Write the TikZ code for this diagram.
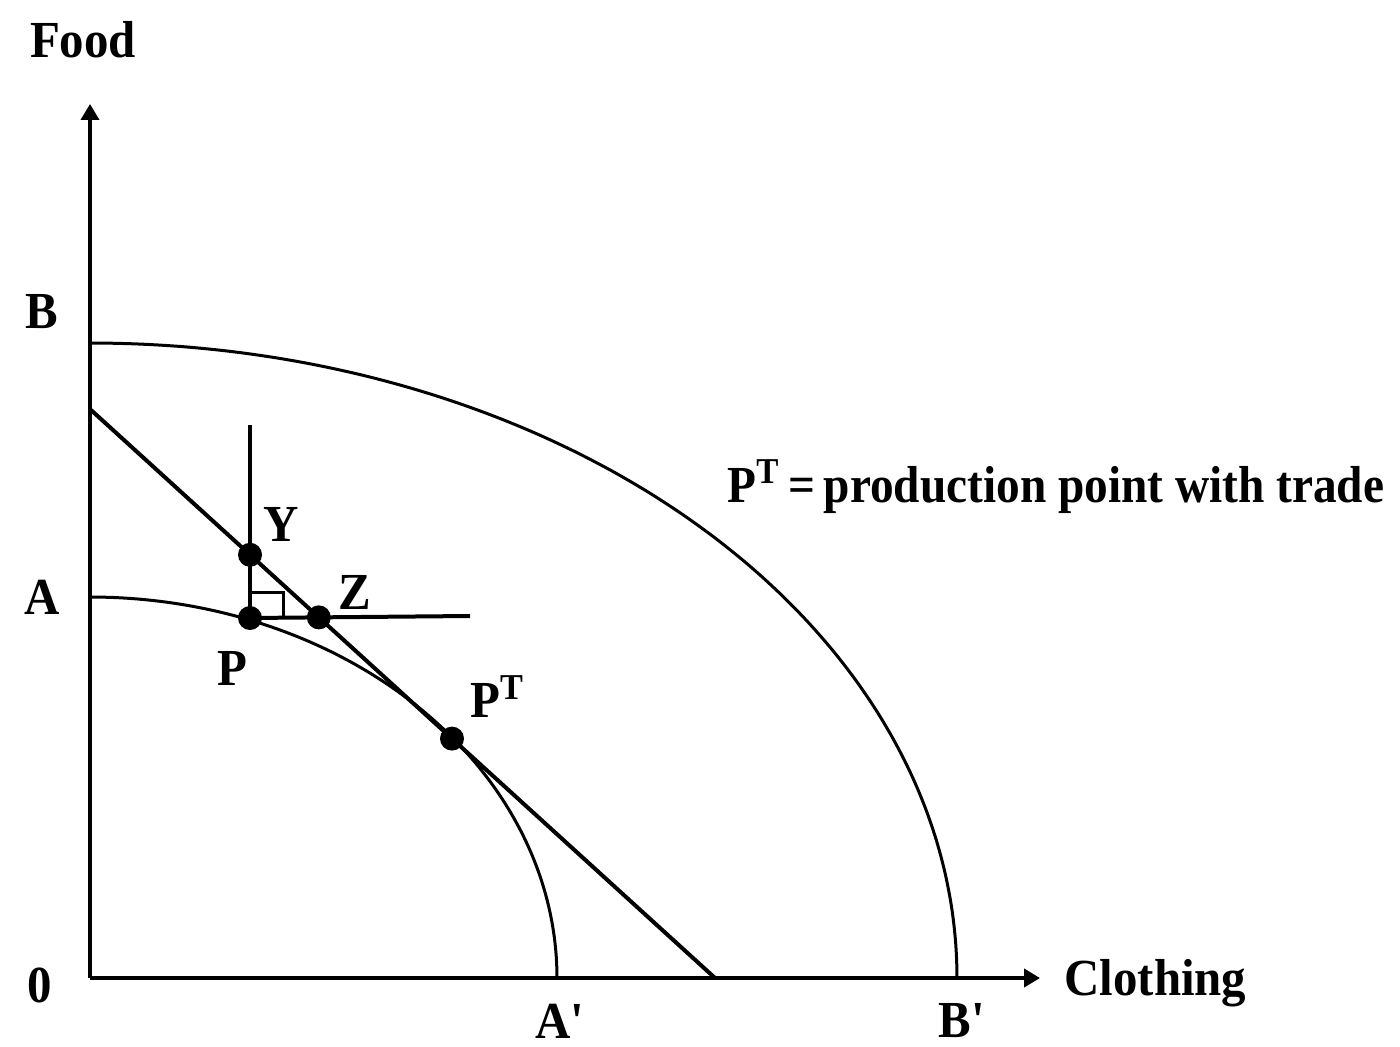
\documentclass[tikz,border=0pt]{standalone}
\usepackage{fontspec}
\setmainfont{Liberation Serif}[FakeStretch=0.94]
\newfontfamily\legfont{Liberation Serif}[FakeStretch=0.91]
\usetikzlibrary{arrows.meta,calc}
\begin{document}
\begin{tikzpicture}[x=0.5pt,y=-0.5pt,
  axis/.style={line width=2.4pt,-{Triangle[length=8pt,width=9pt]}},
  curve/.style={line width=1.5pt},
  tline/.style={line width=2pt},
  guide/.style={line width=2pt},
  dot/.style={fill=black},
  lbl/.style={font=\bfseries\fontsize{26}{30}\selectfont, inner sep=0pt}]
\useasboundingbox (0,0) rectangle (1400,1047);
% axes
\coordinate (O) at (90,978);
\coordinate (ytop) at (90,104);
\coordinate (xend) at (1040,978);
\draw[axis,line width=1.8pt] (O) -- (ytop);
\draw[axis] (O) -- (xend);
% outer PPF B-B'
\draw[curve] plot[domain=0:90, samples=120, smooth] ({90+867*cos(\x)},{978-635*sin(\x)});
% inner PPF A-A'
\draw[curve] plot[domain=0:90, samples=120, smooth] ({90+467*cos(\x)},{978-381*sin(\x)});
% price line
\coordinate (L1) at (91,410);
\coordinate (L2) at (715,978);
\draw[tline] (L1) -- (L2);
% P and guides
\coordinate (P) at (250,618);
\coordinate (Vt) at (250,425);
\coordinate (Hz) at (470,616);
\draw[guide] (P) -- (Vt);
\draw[guide] (P) -- (Hz);
\draw[line width=1.5pt] (P) ++(0,-26) -| ++(33,26);
\coordinate (Y) at (intersection of L1--L2 and P--Vt);
\coordinate (Z) at (intersection of L1--L2 and P--Hz);
\coordinate (PT) at ($(L1)!0.5785!(L2)$);
\fill[dot] (Y) circle[radius=6pt];
\fill[dot] (Z) circle[radius=6pt];
\fill[dot] (P) circle[radius=6pt];
\fill[dot] (PT) circle[radius=6pt];
% labels
\node[lbl] (food) at (83,40) {Food};
\node[lbl] (lB) at (42,312) {B};
\node[lbl] (lA) at (42,597) {A};
\node[lbl] (l0) at (40,985) {0};
\node[lbl] (lA2) at (560,1021) {A\textquotesingle};
\node[lbl] (lB2) at (962,1021) {B\textquotesingle};
\node[lbl,anchor=west] (cloth) at (1064,983) {Clothing};
\node[lbl] (lY) at (281,524) {Y};
\node[lbl] (lZ) at (355,592) {Z};
\node[lbl] (lP) at (232,668) {P};
\node[lbl] (lPT) at (497,697) {P\textsuperscript{T}};
\node[lbl,font=\legfont\bfseries\fontsize{26}{30}\selectfont,anchor=base west] (legend) at (727,502) {P\textsuperscript{T}\,=\,production point with trade};
\end{tikzpicture}
\end{document}
